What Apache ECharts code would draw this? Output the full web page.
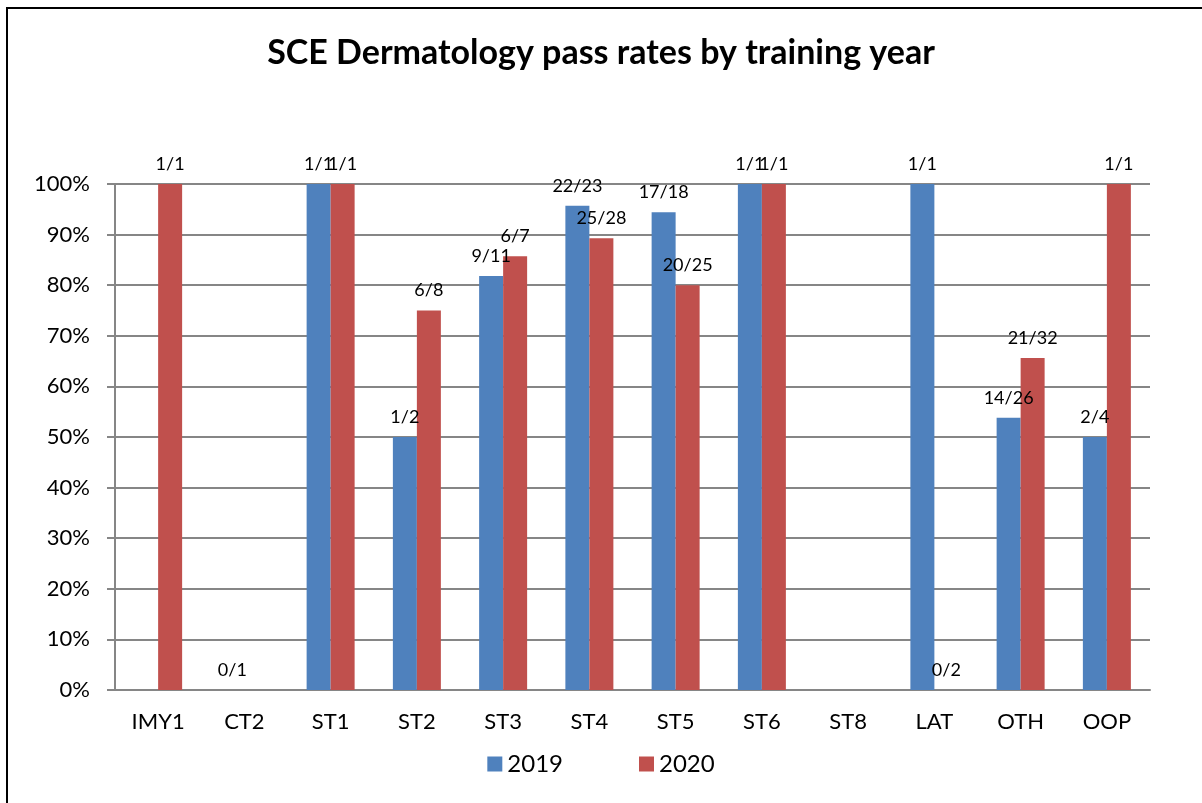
<!DOCTYPE html>
<html>
<head>
<meta charset="utf-8">
<script src="https://cdn.jsdelivr.net/npm/echarts@6/dist/echarts.min.js"></script>
<style>
html,body{margin:0;padding:0;background:#fff;}
#chart{width:1202px;height:803px;}
</style>
</head>
<body>
<div id="chart"></div>
<script>
const categories = ['IMY1','CT2','ST1','ST2','ST3','ST4','ST5','ST6','ST8','LAT','OTH','OOP'];
const values2019 = [null, 0, 100, 50, 81.8, 95.7, 94.4, 100, null, 100, 53.8, 50];
const values2020 = [100, null, 100, 75, 85.7, 89.3, 80, 100, null, 0, 65.6, 100];
const labels2019 = ['', '0/1', '1/1', '1/2', '9/11', '22/23', '17/18', '1/1', '', '1/1', '14/26', '2/4'];
const labels2020 = ['1/1', '', '1/1', '6/8', '6/7', '25/28', '20/25', '1/1', '', '0/2', '21/32', '1/1'];
const yTicks = [0,10,20,30,40,50,60,70,80,90,100];

const FONT = 'Lato, "Open Sans", sans-serif';
const chart = echarts.init(document.getElementById('chart'));
function lbl(arr){
  return {show:true, position:'top', distance:11, color:'#000', fontSize:18, fontFamily:FONT,
    formatter: p => arr[p.dataIndex]};
}
chart.setOption({
  backgroundColor:'#fff',
  animation:false,
  graphic:[{type:'rect', shape:{x:7,y:8,width:1220,height:820}, style:{fill:'none', stroke:'#000', lineWidth:2}, silent:true}],
  title:{text:'SCE Dermatology pass rates by training year', left:'center', top:31,
    textStyle:{fontSize:34, fontWeight:'bold', fontFamily:FONT, color:'#000'}},
  legend:{bottom:22, left:'center', itemWidth:15, itemHeight:15, itemGap:76, icon:'rect',
    textStyle:{fontSize:24, fontFamily:FONT, color:'#000'}, data:['2019','2020']},
  grid:{left:115, right:52, top:184, bottom:113, containLabel:false},
  xAxis:{type:'category', data:categories,
    axisLine:{lineStyle:{color:'#868686', width:2}},
    axisTick:{show:false},
    axisLabel:{fontSize:22, fontFamily:FONT, color:'#000', margin:21}},
  yAxis:{type:'value', min:yTicks[0], max:yTicks[yTicks.length-1], interval:10,
    axisLine:{show:true, lineStyle:{color:'#868686', width:2}},
    axisTick:{show:true, length:8, lineStyle:{color:'#868686', width:2}},
    splitLine:{lineStyle:{color:'#868686', width:2}},
    axisLabel:{fontSize:22, fontFamily:FONT, color:'#000', margin:25, formatter: v => v + '%'}},
  series:[
    {name:'2019', type:'bar', data:values2019, barWidth:24, barGap:'0%',
      itemStyle:{color:'#4F81BD'}, label:lbl(labels2019)},
    {name:'2020', type:'bar', data:values2020, barWidth:24, barGap:'0%',
      itemStyle:{color:'#C0504D'}, label:lbl(labels2020)}
  ]
});
</script>
</body>
</html>
